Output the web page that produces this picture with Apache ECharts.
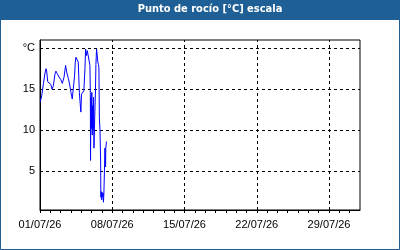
<!DOCTYPE html>
<html>
<head>
<meta charset="utf-8">
<script src="https://cdn.jsdelivr.net/npm/echarts@6/dist/echarts.min.js"></script>
<style>
    html, body { margin: 0; padding: 0; background: #fff; }
    #chart { width: 400px; height: 250px; }
</style>
</head>
<body>
<div id="chart"></div>
<script>
// hours since 01/07/26 00:00
const hours = [0.5, 2, 4, 8, 11.5, 14, 15.5, 18, 21, 25, 28, 31, 35, 37, 40, 43, 48, 52, 56, 59.5,
    62, 66, 69.5, 72, 75, 79, 80.5, 82, 83.5, 86.5, 89, 91.5, 93.5, 95, 96.5, 99, 102, 104.5, 106, 108,
    110, 112, 113.5, 116, 117, 117.5, 118.5, 119.5, 120.5, 121.5, 122.5, 123.5, 124.5, 125.5, 126.5, 128, 129, 130, 131.5, 133,
    134.5, 136, 137, 138, 139.5, 141, 141.5, 142.5, 143.5, 144.5, 145.5, 146.5, 147.5, 148.5, 150, 151, 152.5, 153, 154.5];
const dewPoint = [13.4, 13.6, 14.2, 15.7, 16.9, 17.5, 17.2, 15.9, 15.7, 15.6, 15.0, 15.4, 16.9, 17.2, 16.9, 16.6, 16.2, 15.7, 16.5, 17.9,
    17.1, 16.3, 15.4, 14.6, 13.8, 13.8, 16.7, 18.3, 18.9, 18.7, 18.3, 14.6, 13.2, 12.2, 14.4, 14.6, 14.8, 17.5, 19.9, 19.1,
    19.7, 19.5, 19.9, 17.9, 14.6, 6.3, 14.0, 10.2, 14.6, 9.4, 13.0, 10.0, 14.0, 7.8, 10.2, 10.0, 14.9, 18.0, 19.9, 19.9,
    18.3, 18.0, 17.6, 11.5, 10.0, 6.0, 1.8, 2.5, 1.5, 2.4, 1.9, 2.3, 1.2, 2.2, 5.5, 7.8, 5.5, 7.8, 8.6];
const weekHours = [168, 336, 504, 672];
const yLabels = [5, 10, 15, 20];

const chart = echarts.init(document.getElementById('chart'));
const blue = '#1e5f95';
const font = 'Liberation Sans';
const dashed = { color: '#000', type: [3, 3], width: 1 };

chart.setOption({
    animation: false,
    textStyle: { fontFamily: font },
    graphic: [
        { type: 'rect', z: 0, shape: { x: 0, y: 0, width: 400, height: 20 }, style: { fill: blue } },
        { type: 'rect', z: 0, shape: { x: 0.5, y: 0.5, width: 399, height: 249 }, style: { fill: 'none', stroke: blue, lineWidth: 1 } },
        {
            type: 'text', z: 10, x: 210, y: 4,
            style: { text: 'Punto de rocío [°C] escala', fill: '#fff', font: 'bold 11px "DejaVu Sans Condensed", "DejaVu Sans"', textAlign: 'center' }
        }
    ],
    grid: {
        left: 40, right: 40, top: 40, bottom: 40,
        show: true, borderColor: '#000', borderWidth: 1, backgroundColor: '#fff'
    },
    xAxis: {
        type: 'value',
        min: 0, max: 744, interval: 24,
        axisLine: { lineStyle: { color: '#000', width: 1 } },
        axisTick: { show: true, length: 3, lineStyle: { color: '#000' } },
        axisLabel: {
            margin: 9, color: '#000', fontSize: 11, fontFamily: font,
            showMaxLabel: false,
            formatter: v => v % 168 === 0 ? String(v / 24 + 1).padStart(2, '0') + '/07/26' : ''
        },
        splitLine: { show: false }
    },
    yAxis: {
        type: 'value',
        min: 0.25, max: 21,
        axisLine: { show: true, lineStyle: { color: '#000', width: 1 } },
        axisTick: { show: false, customValues: yLabels },
        axisLabel: {
            customValues: yLabels,
            margin: 5, color: '#000', fontSize: 11, fontFamily: font,
            formatter: v => v === 20 ? '°C' : String(v)
        },
        splitLine: { show: true, lineStyle: dashed }
    },
    series: [{
        type: 'line',
        data: hours.map((h, i) => [h, dewPoint[i]]),
        showSymbol: false,
        lineStyle: { color: '#0000ff', width: 1 },
        itemStyle: { color: '#0000ff' },
        z: 3,
        markLine: {
            silent: true,
            symbol: 'none',
            label: { show: false },
            lineStyle: dashed,
            z: 1,
            data: weekHours.map(h => ({ xAxis: h }))
        }
    }]
});
</script>
</body>
</html>
